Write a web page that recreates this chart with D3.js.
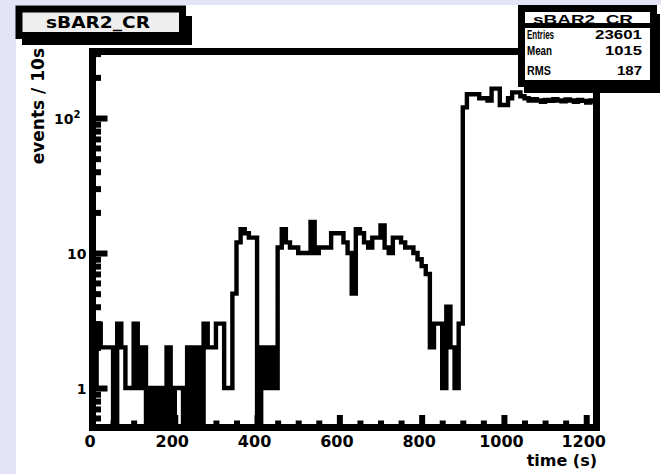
<!DOCTYPE html>
<html>
<head>
<meta charset="utf-8">
<script src="https://cdn.jsdelivr.net/npm/d3@7"></script>
<style>
  html, body { margin: 0; padding: 0; background: #ffffff; }
  svg { display: block; }
  text { font-family: "DejaVu Sans", sans-serif; font-weight: bold; fill: #000; }
</style>
</head>
<body>
<script>
// sBAR2_CR : event rate per 10 s bin
const histName = "sBAR2_CR";
const binWidth = 10;      // seconds per bin
const xMin = 0, xMax = 1225;
const counts = [
  1, 3, 2, 2, 2, 0, 3, 2, 1, 1,
  3, 1, 2, 0, 1, 0, 1, 0, 2, 0,
  1, 1, 0, 2, 0, 2, 0, 3, 2, 2,
  3, 3, 1, 1, 5, 12, 15, 14, 13, 13,
  0, 2, 1, 2, 1, 11, 15, 12, 11, 11,
  10, 10, 10, 17, 10, 11, 11, 11, 14, 14,
  14, 12, 10, 5, 15, 14, 12, 11, 13, 13,
  16, 11, 10, 13, 13, 12, 11, 11, 10, 9,
  8, 7, 2, 3, 3, 1, 4, 2, 1, 3,
  120, 150, 150, 150, 140, 140, 135, 165, 165, 125,
  125, 140, 155, 155, 145, 140, 135, 138, 135, 132,
  136, 134, 138, 135, 133, 137, 135, 132, 136, 134,
  130, 135, 133
];
const xMajorTicks = [0, 200, 400, 600, 800, 1000, 1200];
const xMinorTicks = d3.range(0, 1225, 50).filter(v => v % 200 !== 0);
const yMajorTicks = [1, 10, 100];
const yMajorLabels = [["1", ""], ["10", ""], ["10", "2"]];
const yMinorTicks = [0.6, 0.7, 0.8, 0.9, 2, 3, 4, 5, 6, 7, 8, 9,
                     20, 30, 40, 50, 60, 70, 80, 90, 200, 300];
const yDomain = [0.51, 311];
const xTitle = "time (s)";
const yTitle = "events / 10s";
const statLabels = ["Entries", "Mean", "RMS"];
const statValues = ["23601", "1015", "187"];

const W = 661, H = 474;
const frame = { left: 92.5, right: 596.5, top: 51.5, bottom: 427.5 };

const svg = d3.select("body").append("svg")
  .attr("width", W).attr("height", H);

// canvas and surrounding page
svg.append("rect").attr("width", W).attr("height", H).attr("fill", "#ffffff");
svg.append("rect").attr("x", 0).attr("y", 0).attr("width", 16).attr("height", H).attr("fill", "#e4e4f9");
svg.append("rect").attr("x", 0).attr("y", 0).attr("width", W).attr("height", 5).attr("fill", "#e4e4f9");

const x = d3.scaleLinear().domain([xMin, xMax]).range([frame.left, frame.right]);
const y = d3.scaleLog().domain(yDomain).range([frame.bottom, frame.top]);

// title box with drop shadow
svg.append("rect").attr("x", 22).attr("y", 16).attr("width", 170).attr("height", 29).attr("fill", "#000");
svg.append("rect").attr("x", 19).attr("y", 9).attr("width", 163.5).attr("height", 26.5)
  .attr("fill", "#eeeeee").attr("stroke", "#000").attr("stroke-width", 7);
svg.append("text").attr("x", 98).attr("y", 28).attr("text-anchor", "middle")
  .attr("font-size", 16).attr("textLength", 104).attr("lengthAdjust", "spacingAndGlyphs")
  .text(histName);

// histogram outline
const defs = svg.append("defs");
defs.append("clipPath").attr("id", "plotClip").append("rect")
  .attr("x", frame.left).attr("y", frame.top)
  .attr("width", frame.right - frame.left).attr("height", frame.bottom - frame.top);
defs.append("clipPath").attr("id", "headClip").append("rect")
  .attr("x", 525).attr("y", 12).attr("width", 125).attr("height", 11);

const yFloor = yDomain[0];
const pts = [[x(0), y(yFloor)]];
counts.forEach((c, i) => {
  const yy = y(Math.max(c, yFloor));
  pts.push([x(i * binWidth), yy], [x((i + 1) * binWidth), yy]);
});
pts.push([x(counts.length * binWidth), y(yFloor)]);

svg.append("path")
  .attr("clip-path", "url(#plotClip)")
  .attr("d", d3.line()(pts))
  .attr("fill", "none").attr("stroke", "#000")
  .attr("stroke-width", 4.4).attr("stroke-linejoin", "miter");

// frame
svg.append("rect")
  .attr("x", frame.left).attr("y", frame.top)
  .attr("width", frame.right - frame.left).attr("height", frame.bottom - frame.top)
  .attr("fill", "none").attr("stroke", "#000").attr("stroke-width", 7);

// x axis: inward ticks
const gxMinor = svg.append("g").attr("transform", `translate(0,${frame.bottom})`)
  .call(d3.axisBottom(x).tickValues(xMinorTicks).tickSize(-7).tickFormat(""));
const gxMajor = svg.append("g").attr("transform", `translate(0,${frame.bottom})`)
  .call(d3.axisBottom(x).tickValues(xMajorTicks).tickSize(-12.5).tickPadding(8.5)
    .tickFormat(d3.format("d")));
[gxMinor, gxMajor].forEach(g => {
  g.select(".domain").remove();
  g.selectAll(".tick line").attr("stroke", "#000").attr("stroke-width", 6);
});
gxMajor.selectAll(".tick text")
  .attr("font-family", null).attr("font-size", 16).attr("dx", -3)
  .style("font-family", "'DejaVu Sans', sans-serif").style("font-weight", "bold");

// y axis: inward ticks
const gyMinor = svg.append("g").attr("transform", `translate(${frame.left},0)`)
  .call(d3.axisLeft(y).tickValues(yMinorTicks).tickSize(-8.5).tickFormat(""));
const gyMajor = svg.append("g").attr("transform", `translate(${frame.left},0)`)
  .call(d3.axisLeft(y).tickValues(yMajorTicks).tickSize(-15).tickPadding(6).tickFormat(""));
[gyMinor, gyMajor].forEach(g => {
  g.select(".domain").remove();
  g.selectAll(".tick line").attr("stroke", "#000").attr("stroke-width", 6);
});
gyMajor.selectAll(".tick text").each(function (d, i) {
  const t = d3.select(this)
    .attr("font-family", null).attr("font-size", 14).attr("dy", "0.36em")
    .style("font-family", "'DejaVu Sans', sans-serif").style("font-weight", "bold");
  const [base, sup] = yMajorLabels[i];
  t.append("tspan").text(base);
  if (sup) {
    t.append("tspan").attr("font-size", 10).attr("dy", "-0.55em").text(sup);
    t.attr("dx", -6);
  }
});

// axis titles
svg.append("text").attr("x", 597).attr("y", 466).attr("text-anchor", "end")
  .attr("font-size", 16).text(xTitle);
svg.append("text").attr("transform", "translate(44,48) rotate(-90)")
  .attr("text-anchor", "end").attr("font-size", 17).text(yTitle);

// statistics box
const sb = svg.append("g");
sb.append("rect").attr("x", 524).attr("y", 14).attr("width", 136).attr("height", 79).attr("fill", "#000");
sb.append("rect").attr("x", 521.5).attr("y", 8.5).attr("width", 132).attr("height", 75)
  .attr("fill", "#ffffff");
sb.append("text").attr("x", 583).attr("y", 23.5).attr("text-anchor", "middle")
  .attr("clip-path", "url(#headClip)")
  .attr("font-size", 13).style("font-family", "'Liberation Sans', Arial, sans-serif")
  .attr("textLength", 100).attr("lengthAdjust", "spacingAndGlyphs").text(histName);
const rowBase = [38.5, 55, 75];
const labelLen = [27, 25, 24];
const valueLen = [47, 37, 25];
statLabels.forEach((lab, i) => {
  sb.append("text").attr("x", 527).attr("y", rowBase[i]).attr("font-size", 12)
    .style("font-family", "'Liberation Sans', Arial, sans-serif")
    .attr("textLength", labelLen[i]).attr("lengthAdjust", "spacingAndGlyphs").text(lab);
  sb.append("text").attr("x", 642).attr("y", rowBase[i]).attr("font-size", 12)
    .attr("text-anchor", "end")
    .style("font-family", "'Liberation Sans', Arial, sans-serif")
    .attr("textLength", valueLen[i]).attr("lengthAdjust", "spacingAndGlyphs").text(statValues[i]);
});
sb.append("line").attr("x1", 521.5).attr("x2", 653.5).attr("y1", 25.5).attr("y2", 25.5)
  .attr("stroke", "#000").attr("stroke-width", 5);
sb.append("rect").attr("x", 521.5).attr("y", 8.5).attr("width", 132).attr("height", 75)
  .attr("fill", "none").attr("stroke", "#000").attr("stroke-width", 7);
</script>
</body>
</html>
